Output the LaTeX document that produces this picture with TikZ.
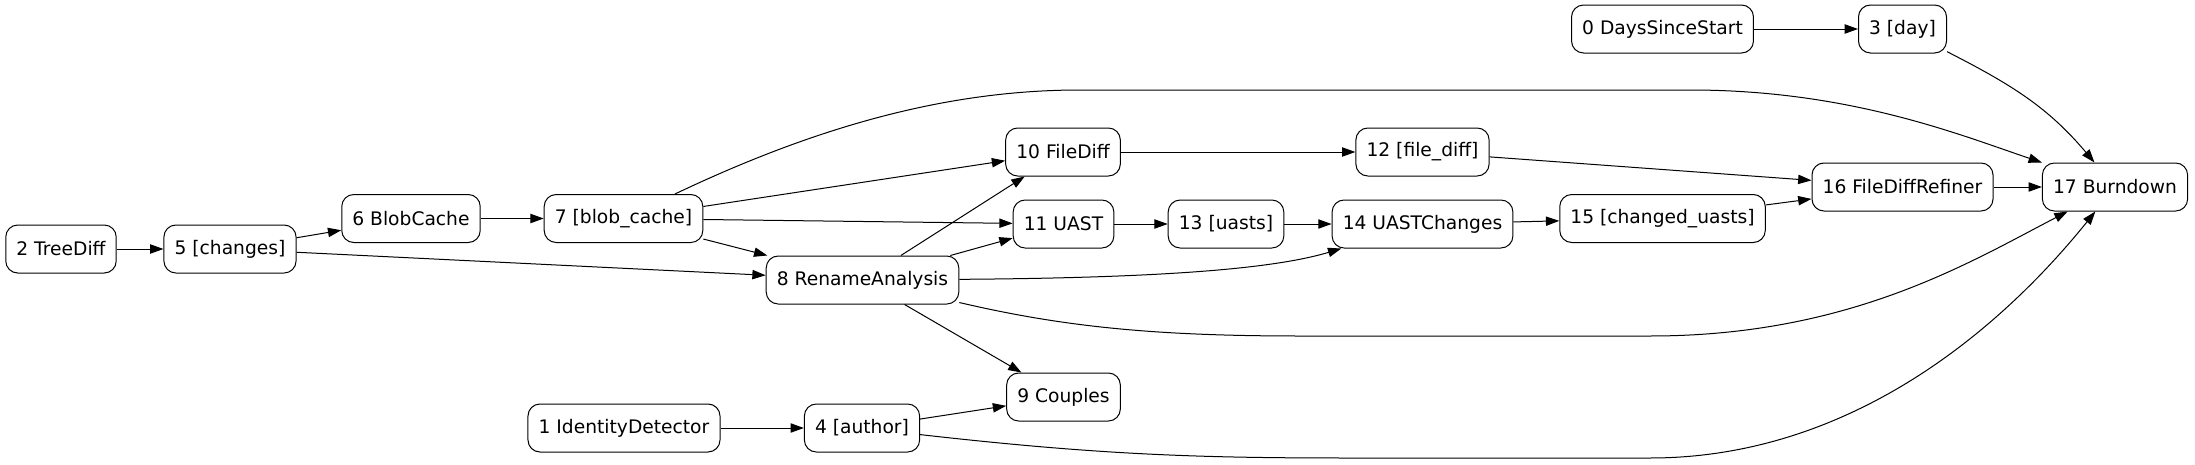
\documentclass[tikz,border=0pt]{standalone}
\usepackage{fontspec}
\setmainfont{DejaVu Sans}
\usetikzlibrary{arrows.meta}

\begin{document}
\begin{tikzpicture}[x=0.75pt,y=-0.75pt,line width=0.75pt,
  box/.style={draw,rounded corners=9pt,minimum height=36pt,inner xsep=8pt,font=\fontsize{14}{16}\selectfont},
  >={Triangle[length=10pt,width=7pt]}]
\useasboundingbox (0,0) rectangle (2195,464);
% nodes
\node[box] (days)    at (1662.5,29)  {0 DaysSinceStart};
\node[box] (day)     at (1902.5,29)  {3 [day]};
\node[box] (tree)    at (61,249)     {2 TreeDiff};
\node[box] (changes) at (230,249)    {5 [changes]};
\node[box] (blob)    at (411,218.5)  {6 BlobCache};
\node[box] (blobc)   at (623.5,218.5) {7 [blob\_cache]};
\node[box] (rename)  at (862.5,280)  {8 RenameAnalysis};
\node[box] (fdiff)   at (1063,152)   {10 FileDiff};
\node[box] (uast)    at (1063.5,224) {11 UAST};
\node[box] (couples) at (1063.5,397) {9 Couples};
\node[box] (ident)   at (624,428)    {1 IdentityDetector};
\node[box] (author)  at (862,428)    {4 [author]};
\node[box] (fdiffv)  at (1422.5,152) {12 [file\_diff]};
\node[box] (uasts)   at (1226,224)   {13 [uasts]};
\node[box] (uastch)  at (1422.5,224) {14 UASTChanges};
\node[box] (chuasts) at (1662.5,218.5) {15 [changed\_uasts]};
\node[box] (refiner) at (1902.5,187) {16 FileDiffRefiner};
\node[box] (burn)    at (2115,187)   {17 Burndown};
% straight edges
\draw[->] (days) -- (day);
\draw[->] (ident) -- (author);
\draw[->] (author) -- (couples);
\draw[->] (tree) -- (changes);
\draw[->] (changes) -- (blob);
\draw[->] (changes) -- (rename);
\draw[->] (blob) -- (blobc);
\draw[->] (blobc) -- (fdiff);
\draw[->] (blobc) -- (uast);
\draw[->] (blobc) -- (rename);
\draw[->] (rename) -- (fdiff);
\draw[->] (rename) -- (uast);
\draw[->] (rename) -- (couples);
\draw[->] (fdiff) -- (fdiffv);
\draw[->] (uast) -- (uasts);
\draw[->] (uasts) -- (uastch);
\draw[->] (uastch) -- (chuasts);
\draw[->] (fdiffv) -- (refiner);
\draw[->] (chuasts) -- (refiner);
\draw[->] (refiner) -- (burn);
% curved edges
\draw[->] (day) to[out=-27,in=130] (burn);
\draw[->] (blobc) .. controls (820,125) and (950,90) .. (1080,90) -- (1690,90) .. controls (1850,90) and (1960,135) .. (burn);
\draw[->] (rename) .. controls (1150,278) and (1270,270) .. (uastch);
\draw[->] (rename) .. controls (1060,326) and (1150,336) .. (1300,336) -- (1650,336) .. controls (1850,336) and (1970,262) .. (burn);
\draw[->] (author) .. controls (1100,455) and (1200,458) .. (1350,458) -- (1650,458) .. controls (1850,458) and (2000,330) .. (burn);
\end{tikzpicture}
\end{document}
